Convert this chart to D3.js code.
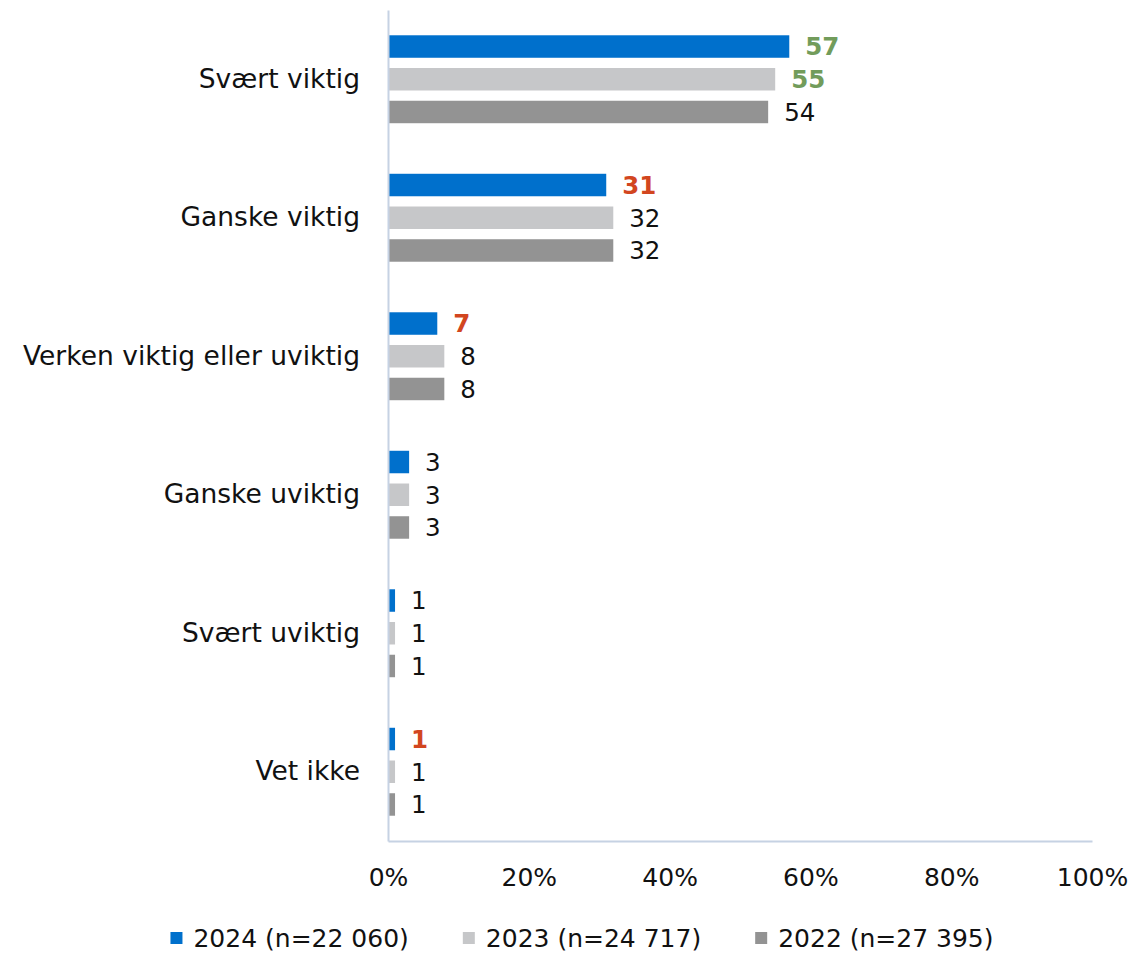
<!DOCTYPE html>
<html>
<head>
<meta charset="utf-8">
<script src="https://cdn.jsdelivr.net/npm/d3@7"></script>
<style>
    body { margin: 0; background: #fff; }
    text { font-family: "DejaVu Sans", sans-serif; fill: #111; }
</style>
</head>
<body>
<div id="chart"></div>
<script>
// data
var categories = ["Svært viktig", "Ganske viktig", "Verken viktig eller uviktig", "Ganske uviktig", "Svært uviktig", "Vet ikke"];
var seriesNames = ["2024 (n=22 060)", "2023 (n=24 717)", "2022 (n=27 395)"];
var values2024 = [57, 31, 7, 3, 1, 1];
var values2023 = [55, 32, 8, 3, 1, 1];
var values2022 = [54, 32, 8, 3, 1, 1];
// significance marks: "up" = green, "down" = red
var sig2024 = ["up", "down", "down", "", "", "down"];
var sig2023 = ["up", "", "", "", "", ""];
var sig2022 = ["", "", "", "", "", ""];
var xTicks = [0, 20, 40, 60, 80, 100];

var colors = ["#0070cc", "#c6c7c9", "#939393"];
var sigColors = { up: "#729c5b", down: "#d2461f" };

var width = 1132, height = 953;
var margin = { top: 10, right: 40, bottom: 112, left: 388 };
var innerW = width - margin.left - margin.right;
var innerH = height - margin.top - margin.bottom;

var allValues = [values2024, values2023, values2022];
var allSig = [sig2024, sig2023, sig2022];

var svg = d3.select('#chart')
    .append('svg')
    .attr('width', width)
    .attr('height', height)
    .append('g')
    .attr('transform', `translate(${margin.left}, ${margin.top})`);

var xScale = d3.scaleLinear()
    .domain([0, 100])
    .range([0, innerW]);

var yScale = d3.scaleBand()
    .domain(categories)
    .range([0, innerH])
    .paddingInner(0.365)
    .paddingOuter(0.1825);

var yInner = d3.scaleBand()
    .domain([0, 1, 2])
    .range([0, yScale.bandwidth()])
    .paddingInner(0.313);

// bars + labels
var groups = svg.selectAll('.group')
    .data(categories)
    .enter()
    .append('g')
    .attr('class', 'group')
    .attr('transform', d => `translate(0, ${yScale(d)})`);

groups.each(function (cat, ci) {
    var g = d3.select(this);
    var rows = [0, 1, 2].map(s => ({ s: s, v: allValues[s][ci], sig: allSig[s][ci] }));

    g.selectAll('rect')
        .data(rows)
        .enter()
        .append('rect')
        .attr('x', 0)
        .attr('y', d => yInner(d.s))
        .attr('width', d => xScale(d.v))
        .attr('height', yInner.bandwidth())
        .style('fill', d => colors[d.s]);

    g.selectAll('text')
        .data(rows)
        .enter()
        .append('text')
        .attr('x', d => xScale(d.v) + 16)
        .attr('y', d => yInner(d.s) + yInner.bandwidth() / 2)
        .attr('dy', '0.36em')
        .style('font-size', '24.5px')
        .style('font-weight', d => d.sig ? 'bold' : 'normal')
        .style('fill', d => d.sig ? sigColors[d.sig] : '#111')
        .text(d => d.v);
});

// y axis with category labels
var yAxis = svg.append('g')
    .attr('class', 'y axis')
    .call(d3.axisLeft(yScale).tickSize(0).tickSizeOuter(0).tickPadding(28));
yAxis.select('.domain').attr('stroke', '#c6d2e3').attr('stroke-width', 2);
yAxis.selectAll('text')
    .style('font-size', '26.5px')
    .style('font-family', '"DejaVu Sans", sans-serif')
    .attr('fill', '#111');

// x axis
var xAxis = svg.append('g')
    .attr('class', 'x axis')
    .attr('transform', `translate(0, ${innerH})`)
    .call(d3.axisBottom(xScale)
        .tickValues(xTicks)
        .tickFormat(d => d + '%')
        .tickSize(0)
        .tickSizeOuter(0)
        .tickPadding(27));
xAxis.select('.domain').attr('stroke', '#c6d2e3').attr('stroke-width', 2);
xAxis.selectAll('text')
    .style('font-size', '25px')
    .style('font-family', '"DejaVu Sans", sans-serif')
    .attr('fill', '#111');

// legend
var legend = d3.select('#chart svg').append('g').attr('class', 'legend');
var items = legend.selectAll('g')
    .data(seriesNames)
    .enter()
    .append('g');
items.append('rect')
    .attr('width', 12)
    .attr('height', 12)
    .attr('y', -6)
    .style('fill', (d, i) => colors[i]);
items.append('text')
    .attr('x', 23)
    .attr('dy', '0.36em')
    .style('font-size', '25px')
    .text(d => d);

var gap = 54, pos = 0, offsets = [];
items.each(function () {
    offsets.push(pos);
    pos += 23 + d3.select(this).select('text').node().getComputedTextLength() + gap;
});
var total = pos - gap;
var startX = (174 + 990) / 2 - total / 2;
items.attr('transform', (d, i) => `translate(${startX + offsets[i]}, 938)`);
</script>
</body>
</html>
